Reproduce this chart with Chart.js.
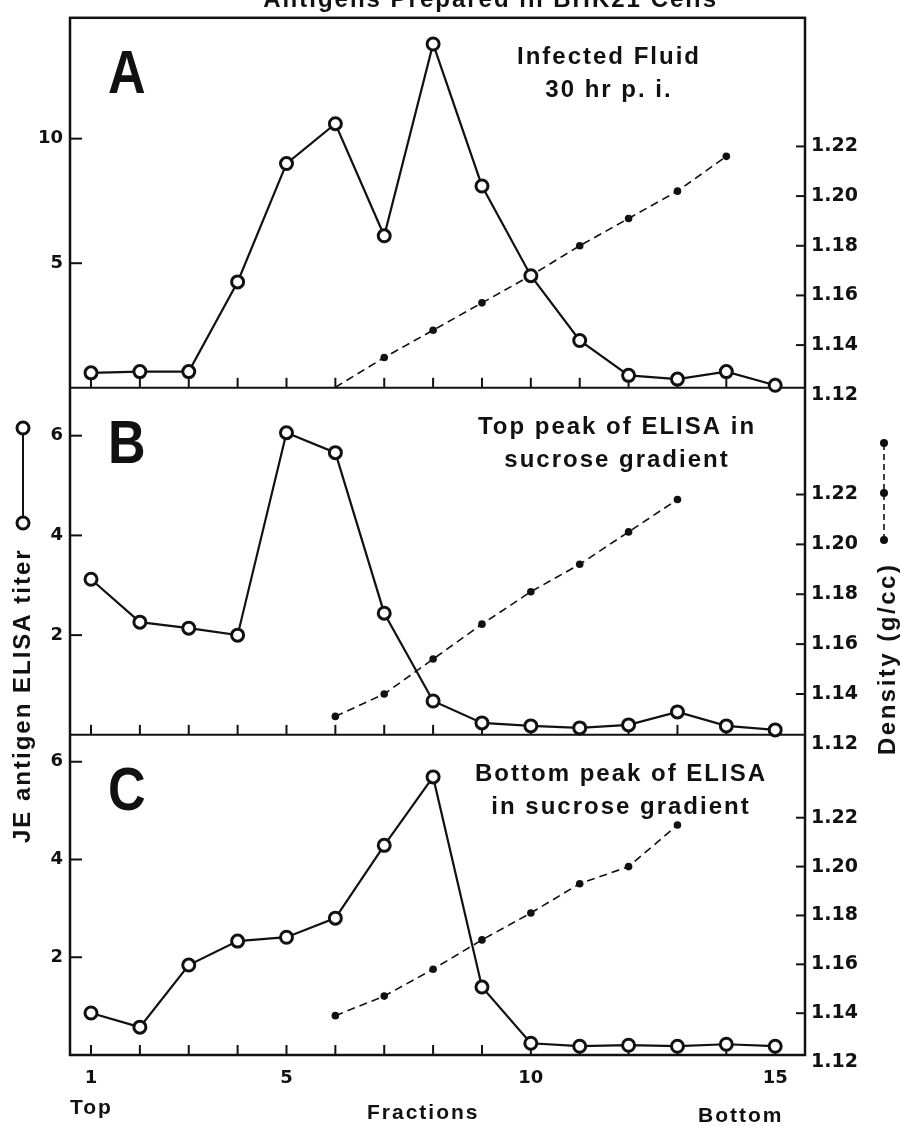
<!DOCTYPE html>
<html>
<head>
<meta charset="utf-8">
<script src="https://cdn.jsdelivr.net/npm/chart.js@4.4.1/dist/chart.umd.min.js"></script>
<style>
  html, body { margin: 0; padding: 0; background: #fff; }
  #wrap { position: relative; width: 900px; height: 1126px; }
</style>
</head>
<body>
<div id="wrap"><canvas id="gradient" width="900" height="1126"></canvas></div>
<script>
// fractions of the sucrose gradient, top -> bottom
const fractions = [1, 2, 3, 4, 5, 6, 7, 8, 9, 10, 11, 12, 13, 14, 15];
const fractionLabels = [1, 5, 10, 15];

// JE antigen ELISA titer (open circles)
const titerA = [0.6, 0.65, 0.65, 4.25, 9.0, 10.6, 6.1, 13.8, 8.1, 4.5, 1.9, 0.5, 0.35, 0.65, 0.1];
const titerB = [3.12, 2.26, 2.14, 2.0, 6.06, 5.66, 2.44, 0.68, 0.24, 0.18, 0.14, 0.2, 0.46, 0.18, 0.1];
const titerC = [0.86, 0.57, 1.84, 2.33, 2.41, 2.8, 4.29, 5.69, 1.39, 0.24, 0.18, 0.2, 0.18, 0.22, 0.18];

// density g/cc (filled dots, dashed)
const densityA = [null, null, null, null, null, 1.123, 1.135, 1.146, 1.157, 1.168, 1.18, 1.191, 1.202, 1.216, null];
const densityB = [null, null, null, null, null, 1.131, 1.14, 1.154, 1.168, 1.181, 1.192, 1.205, 1.218, null, null];
const densityC = [null, null, null, null, null, 1.139, 1.147, 1.158, 1.17, 1.181, 1.193, 1.2, 1.217, null, null];

const titerTicksA = [5, 10];
const titerTicksBC = [2, 4, 6];
const densityTicks = [1.12, 1.14, 1.16, 1.18, 1.20, 1.22];

const panelLetters = ['A', 'B', 'C'];
const panelNotes = [
  ['Infected Fluid', '30 hr p. i.'],
  ['Top peak of ELISA in', 'sucrose gradient'],
  ['Bottom peak of ELISA', 'in sucrose gradient']
];
const figTitle = 'Antigens Prepared in BHK21 Cells';
const titerTitle = 'JE antigen ELISA titer';
const densityTitle = 'Density (g/cc)';

const INK = '#111';
const pts = arr => fractions.map((f, i) => ({ x: f, y: arr[i] }));

const titerStyle = {
  borderColor: INK, borderWidth: 2.2, tension: 0,
  pointRadius: 6, pointBorderWidth: 3, pointBorderColor: INK,
  pointBackgroundColor: '#fff', clip: false
};
const densityStyle = {
  borderColor: INK, borderWidth: 1.6, borderDash: [8, 5], tension: 0,
  pointRadius: 3.8, pointBorderWidth: 0, pointBackgroundColor: INK, clip: false
};

function yScale(id, o) {
  const left = o.side === 'left';
  return {
    type: 'linear',
    position: o.side,
    stack: o.side,
    stackWeight: o.h,
    weight: o.w,
    min: o.min,
    max: o.max,
    afterBuildTicks: s => { s.ticks = o.ticks.map(v => ({ value: v })); },
    afterFit: s => { s.width = left ? 70 : 95; },
    grid: { display: false, drawTicks: false },
    border: { display: false },
    ticks: {
      padding: left ? 7 : 6,
      color: INK,
      font: { family: "'DejaVu Sans'", size: left ? 18 : 19, weight: 'bold' },
      callback: v => left ? String(v) : v.toFixed(2)
    }
  };
}

function line(ctx, x1, y1, x2, y2) {
  ctx.beginPath(); ctx.moveTo(x1, y1); ctx.lineTo(x2, y2); ctx.stroke();
}

const framePlugin = {
  id: 'frame',
  beforeDatasetsDraw(chart) {
    const { ctx, chartArea: a, scales } = chart;
    ctx.save();
    ctx.strokeStyle = INK;
    ctx.lineWidth = 2.5;
    ctx.strokeRect(a.left, a.top, a.right - a.left, a.bottom - a.top);
    ctx.lineWidth = 2;
    ['yA', 'yB', 'yC'].forEach(id => {
      const s = scales[id];
      line(ctx, a.left, s.bottom, a.right, s.bottom);
      fractions.forEach(f => {
        const x = scales.x.getPixelForValue(f);
        line(ctx, x, s.bottom, x, s.bottom - 10);
      });
      s.ticks.forEach(t => {
        const y = s.getPixelForValue(t.value);
        line(ctx, a.left, y, a.left + 12, y);
      });
    });
    ['dA', 'dB', 'dC'].forEach(id => {
      const s = scales[id];
      s.ticks.forEach(t => {
        if (t.value < s.min) return;
        const y = s.getPixelForValue(t.value);
        line(ctx, a.right - 9, y, a.right, y);
      });
    });
    ctx.restore();
  },
  afterDraw(chart) {
    const { ctx, scales } = chart;
    ctx.save();
    ctx.fillStyle = INK;
    ctx.strokeStyle = INK;

    // cut-off figure title at the very top
    ctx.font = "bold 24px 'Liberation Sans'";
    ctx.letterSpacing = '2px';
    ctx.textAlign = 'right';
    ctx.textBaseline = 'alphabetic';
    ctx.fillText(figTitle, 718, 7);

    const noteX = [609, 617, 621];
    ['yA', 'yB', 'yC'].forEach((id, i) => {
      const top = scales[id].top;
      ctx.save();
      ctx.translate(108, top + 75);
      ctx.scale(0.84, 1);
      ctx.font = "bold 62px 'Liberation Sans'";
      ctx.letterSpacing = '0px';
      ctx.textAlign = 'left';
      ctx.fillText(panelLetters[i], 0, 0);
      ctx.restore();

      ctx.font = "bold 24px 'Liberation Sans'";
      ctx.letterSpacing = '2px';
      ctx.textAlign = 'center';
      ctx.fillText(panelNotes[i][0], noteX[i], top + 46);
      ctx.fillText(panelNotes[i][1], noteX[i], top + 79);
    });

    // x axis captions
    ctx.font = "bold 21px 'Liberation Sans'";
    ctx.letterSpacing = '2px';
    ctx.textAlign = 'left';
    ctx.fillText('Top', 70, 1114);
    ctx.fillText('Fractions', 367, 1119);
    ctx.fillText('Bottom', 698, 1122);

    // left vertical title with open-circle key
    ctx.save();
    ctx.translate(23, 843);
    ctx.rotate(-Math.PI / 2);
    ctx.font = "bold 24px 'Liberation Sans'";
    ctx.letterSpacing = '2px';
    ctx.textAlign = 'left';
    ctx.textBaseline = 'middle';
    ctx.fillText(titerTitle, 0, 0);
    ctx.lineWidth = 2;
    line(ctx, 320, 0, 415, 0);
    ctx.lineWidth = 3;
    [320, 415].forEach(px => {
      ctx.beginPath(); ctx.arc(px, 0, 6, 0, Math.PI * 2);
      ctx.fillStyle = '#fff'; ctx.fill(); ctx.stroke();
    });
    ctx.restore();

    // right vertical title with dot key
    ctx.save();
    ctx.translate(888, 755);
    ctx.rotate(-Math.PI / 2);
    ctx.font = "bold 24px 'Liberation Sans'";
    ctx.letterSpacing = '2.5px';
    ctx.textAlign = 'left';
    ctx.textBaseline = 'middle';
    ctx.fillText(densityTitle, 0, 0);
    ctx.lineWidth = 1.6;
    ctx.setLineDash([6, 4]);
    line(ctx, 215, -4, 312, -4);
    ctx.setLineDash([]);
    [215, 262, 312].forEach(px => {
      ctx.beginPath(); ctx.arc(px, -4, 4, 0, Math.PI * 2); ctx.fill();
    });
    ctx.restore();

    ctx.restore();
  }
};

new Chart(document.getElementById('gradient'), {
  type: 'line',
  data: {
    datasets: [
      { ...titerStyle, data: pts(titerA), yAxisID: 'yA' },
      { ...titerStyle, data: pts(titerB), yAxisID: 'yB' },
      { ...titerStyle, data: pts(titerC), yAxisID: 'yC' },
      // panel A: the dashed line rises from the floor at fraction 6, no dot there
      { ...densityStyle, data: pts(densityA), yAxisID: 'dA', pointRadius: densityA.map((v, i) => i === 5 ? 0 : 3.8) },
      { ...densityStyle, data: pts(densityB), yAxisID: 'dB' },
      { ...densityStyle, data: pts(densityC), yAxisID: 'dC' }
    ]
  },
  options: {
    responsive: false,
    animation: false,
    layout: { padding: { top: 15, left: 0, right: 0, bottom: 0 } },
    plugins: { legend: { display: false }, tooltip: { enabled: false } },
    scales: {
      x: {
        type: 'linear', min: 0.57, max: 15.61,
        afterBuildTicks: s => { s.ticks = fractionLabels.map(v => ({ value: v })); },
        afterFit: s => { s.height = 71; },
        grid: { display: false, drawTicks: false },
        border: { display: false },
        ticks: {
          padding: 13, autoSkip: false, maxRotation: 0, color: INK,
          font: { family: "'DejaVu Sans'", size: 18, weight: 'bold' }
        }
      },
      yA: yScale('yA', { side: 'left', h: 371, w: 3, min: 0, max: 14.85, ticks: titerTicksA }),
      yB: yScale('yB', { side: 'left', h: 348, w: 2, min: 0, max: 6.96, ticks: titerTicksBC }),
      yC: yScale('yC', { side: 'left', h: 321, w: 1, min: 0, max: 6.55, ticks: titerTicksBC }),
      dA: yScale('dA', { side: 'right', h: 371, w: 1, min: 1.1228, max: 1.2718, ticks: densityTicks }),
      dB: yScale('dB', { side: 'right', h: 348, w: 2, min: 1.1236, max: 1.2628, ticks: densityTicks }),
      dC: yScale('dC', { side: 'right', h: 321, w: 3, min: 1.1229, max: 1.2539, ticks: densityTicks })
    }
  },
  plugins: [framePlugin]
});
</script>
</body>
</html>
